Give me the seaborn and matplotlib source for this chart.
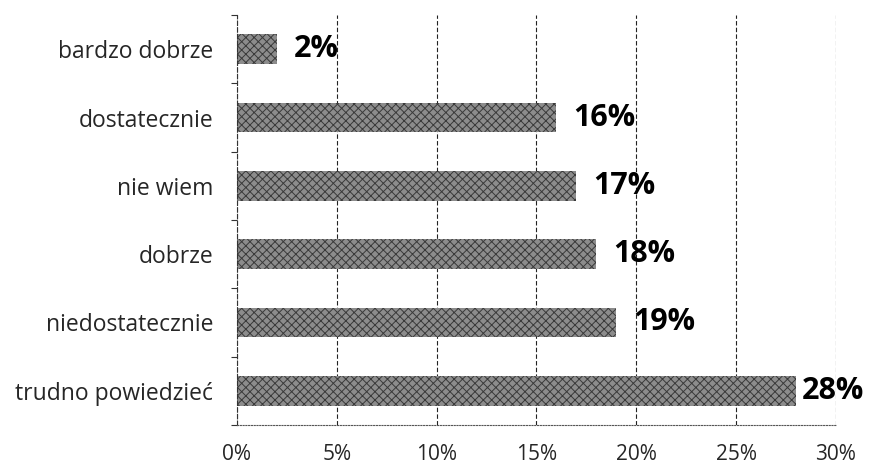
import numpy as np
import pandas as pd
import matplotlib
matplotlib.use('Agg')
import matplotlib.pyplot as plt
import seaborn as sns
from matplotlib.ticker import PercentFormatter

# data
categories = ['bardzo dobrze', 'dostatecznie', 'nie wiem', 'dobrze',
              'niedostatecznie', 'trudno powiedzieć']
values = [2, 16, 17, 18, 19, 28]
xticks = [0, 5, 10, 15, 20, 25, 30]

df = pd.DataFrame({'kategoria': categories, 'procent': values})

sns.set_style('white')
plt.rcParams['font.family'] = ['Open Sans', 'DejaVu Sans']
plt.rcParams['hatch.linewidth'] = 0.7

fig = plt.figure(figsize=(8.7, 4.68), dpi=100)
ax = fig.add_axes([0.2724, 0.0919, 0.6885, 0.876])

sns.barplot(data=df, x='procent', y='kategoria', orient='h', ax=ax,
            color='#8c8c8c', width=0.43, saturation=1)
for p in ax.patches:
    p.set_hatch('xxxx')
    p.set_edgecolor('#3a3a3a')
    p.set_linewidth(0)

# value labels, the last one sits closer to its bar (as in the original)
for p, v in zip(ax.patches, values):
    off = 12 if v < 25 else 4
    ax.annotate(f'{v}%', (p.get_width(), p.get_y() + p.get_height() / 2),
                xytext=(off, 0), textcoords='offset points',
                va='center', ha='left', fontsize=22, fontweight='bold', color='black')

ax.set_xlim(0, 30)
ax.set_ylim(len(categories) - 0.5, -0.5)
ax.set_xticks(xticks)
ax.xaxis.set_major_formatter(PercentFormatter(decimals=0))
ax.set_xlabel('')
ax.set_ylabel('')
ax.grid(axis='x', color='#222222', linestyle=(0, (4, 2)), linewidth=0.8)
ax.set_axisbelow(True)

# small ticks on the left at category boundaries
ax.set_yticks(np.arange(-0.5, len(categories), 1), minor=True)
ax.tick_params(axis='y', which='minor', left=True, length=4, width=0.8, color='#333333')
ax.tick_params(axis='y', which='major', left=False, labelsize=16.5, pad=13.5)
ax.tick_params(axis='x', which='major', bottom=False, labelsize=15, pad=10)

for side in ['top', 'right']:
    ax.spines[side].set_visible(False)
ax.spines['left'].set_color('#333333')
ax.spines['left'].set_linestyle((0, (4, 2)))
ax.spines['left'].set_linewidth(0.8)
ax.spines['bottom'].set_color('#555555')
ax.spines['bottom'].set_linestyle((0, (1, 1.5)))
ax.spines['bottom'].set_linewidth(0.8)

plt.savefig('out.png', dpi=100)
